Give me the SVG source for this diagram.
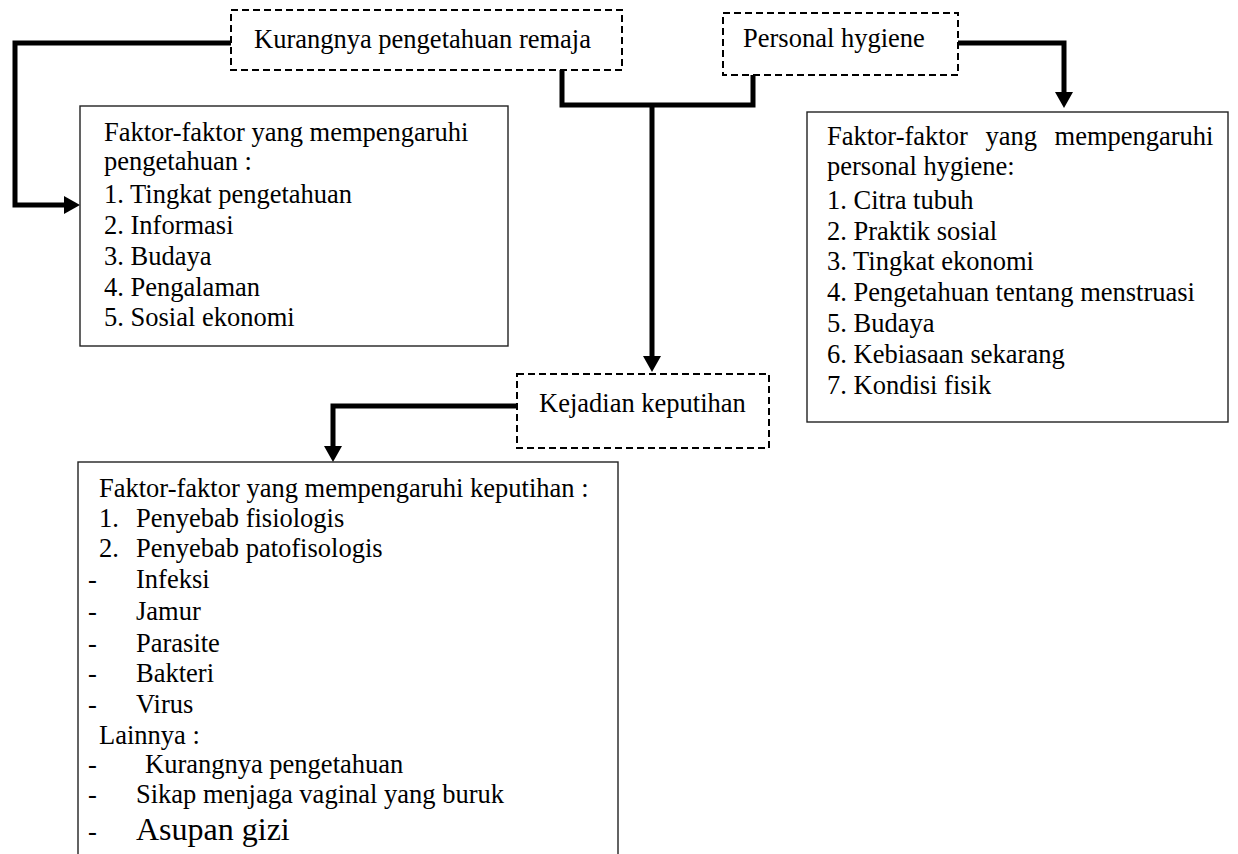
<svg xmlns="http://www.w3.org/2000/svg" width="1238" height="854" viewBox="0 0 1238 854">
<style>
text{font-family:"Liberation Serif","Times New Roman",serif;font-size:26.5px;fill:#000}
.dash{fill:#fff;stroke:#000;stroke-width:2;stroke-dasharray:7 4}
.box{fill:#fff;stroke:#222;stroke-width:1.4}
.conn{fill:none;stroke:#000;stroke-width:5;stroke-linejoin:miter}
</style>
<defs>
<marker id="arr" viewBox="0 0 16 18" refX="0" refY="9" markerWidth="16" markerHeight="18" markerUnits="userSpaceOnUse" orient="auto">
<path d="M0,0 L16,9 L0,18 z" fill="#000"/>
</marker>
</defs>
<rect width="1238" height="854" fill="#fff"/>
<g id="connectors">
<path class="conn" d="M231,43 H15 V205 H64" marker-end="url(#arr)"/>
<path class="conn" d="M562,70 V105 H753 V75"/>
<path class="conn" d="M652,105 V356" marker-end="url(#arr)"/>
<path class="conn" d="M958,43 H1064 V92" marker-end="url(#arr)"/>
<path class="conn" d="M517,406 H333 V446" marker-end="url(#arr)"/>
</g>
<g id="node-kurangnya">
<rect class="dash" x="231" y="10" width="391" height="60"/>
<text x="254" y="48">Kurangnya pengetahuan remaja</text>
</g>
<g id="node-personal">
<rect class="dash" x="723" y="13" width="235" height="62"/>
<text x="743" y="47">Personal hygiene</text>
</g>
<g id="node-faktor-pengetahuan">
<rect class="box" x="80" y="106" width="428" height="240"/>
<text x="104" y="141">Faktor-faktor yang mempengaruhi</text>
<text x="104" y="170">pengetahuan :</text>
<text x="104" y="203">1. Tingkat pengetahuan</text>
<text x="104" y="234">2. Informasi</text>
<text x="104" y="265">3. Budaya</text>
<text x="104" y="296">4. Pengalaman</text>
<text x="104" y="326">5. Sosial ekonomi</text>
</g>
<g id="node-faktor-hygiene">
<rect class="box" x="807" y="112" width="421" height="310"/>
<text x="827" y="145" word-spacing="11">Faktor-faktor yang mempengaruhi</text>
<text x="827" y="175">personal hygiene:</text>
<text x="827" y="209">1. Citra tubuh</text>
<text x="827" y="240">2. Praktik sosial</text>
<text x="827" y="270">3. Tingkat ekonomi</text>
<text x="827" y="301">4. Pengetahuan tentang menstruasi</text>
<text x="827" y="332">5. Budaya</text>
<text x="827" y="363">6. Kebiasaan sekarang</text>
<text x="827" y="394">7. Kondisi fisik</text>
</g>
<g id="node-kejadian">
<rect class="dash" x="517" y="374" width="252" height="74"/>
<text x="539" y="412">Kejadian keputihan</text>
</g>
<g id="node-faktor-keputihan">
<rect class="box" x="78" y="462" width="540" height="410"/>
<text x="99" y="497">Faktor-faktor yang mempengaruhi keputihan :</text>
<text x="99" y="527">1.</text><text x="136" y="527">Penyebab fisiologis</text>
<text x="99" y="557">2.</text><text x="136" y="557">Penyebab patofisologis</text>
<text x="88" y="588">-</text><text x="136" y="588">Infeksi</text>
<text x="88" y="620">-</text><text x="136" y="620">Jamur</text>
<text x="88" y="652">-</text><text x="136" y="652">Parasite</text>
<text x="88" y="682">-</text><text x="136" y="682">Bakteri</text>
<text x="88" y="713">-</text><text x="136" y="713">Virus</text>
<text x="99" y="744">Lainnya :</text>
<text x="88" y="773">-</text><text x="145" y="773">Kurangnya pengetahuan</text>
<text x="88" y="803">-</text><text x="136" y="803">Sikap menjaga vaginal yang buruk</text>
<text x="88" y="840">-</text><text x="136" y="840" style="font-size:32px">Asupan gizi</text>
</g>
</svg>
